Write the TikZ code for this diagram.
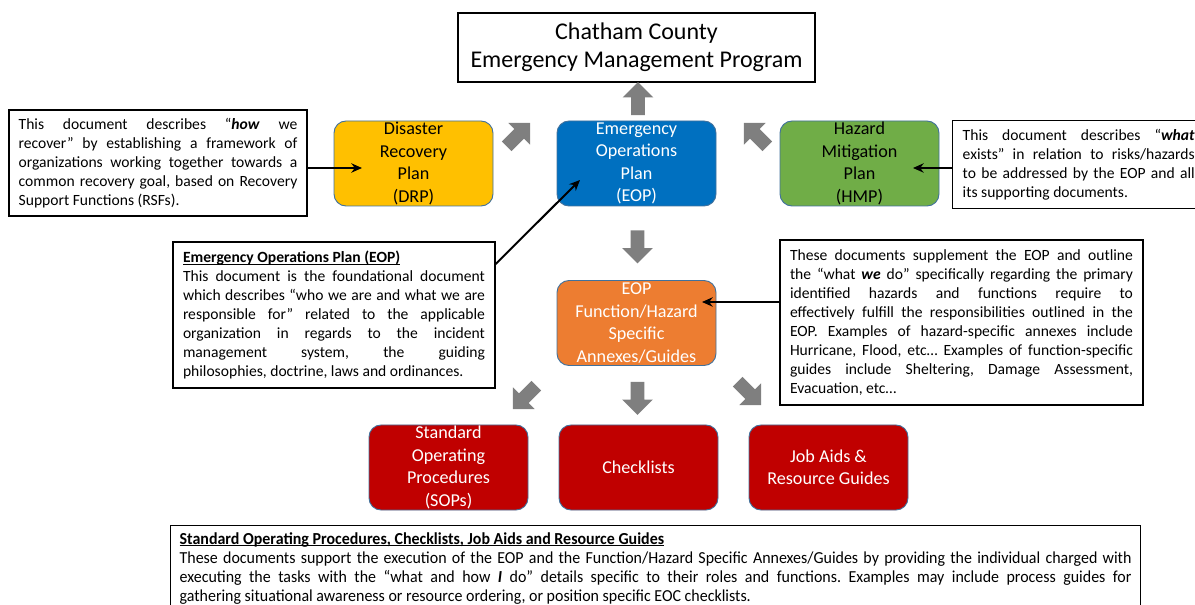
\documentclass[tikz,border=0pt]{standalone}
\usepackage{fontspec}
\setmainfont{Carlito}
\newfontfamily\narrowfont{Carlito}[FakeStretch=0.95]
\usepackage{tikz}
\usetikzlibrary{shapes.arrows,arrows.meta}

\definecolor{drpyellow}{HTML}{FFC000}
\definecolor{eopblue}{HTML}{0070C0}
\definecolor{hmpgreen}{HTML}{70AD47}
\definecolor{annexorange}{HTML}{ED7D31}
\definecolor{sopred}{HTML}{C00000}
\definecolor{edgeblue}{HTML}{41719C}
\definecolor{arrowgray}{HTML}{7F7F7F}

% underline close to the baseline
\newcommand\ulinetext[1]{\setbox0\hbox{#1}\rlap{\rule[-1.5pt]{\wd0}{0.6pt}}\box0}

\begin{document}
\begin{tikzpicture}[x=0.75pt,y=-0.75pt,
  planbox/.style={rounded corners=9pt,draw=edgeblue,line width=0.7pt,minimum width=119.25pt,
    minimum height=63.75pt,align=center,inner sep=0pt,font=\fontsize{13.6}{16.9}\selectfont},
  notebox/.style={draw,line width=0.9pt,align=justify,inner ysep=0pt,
    font=\fontsize{11.7}{14.25}\selectfont\frenchspacing},
  bigarrow/.style={single arrow,fill=arrowgray,inner xsep=0pt,inner ysep=4.9pt,
    single arrow head extend=6.4pt,minimum height=24.75pt},
  pointer/.style={line width=1.5pt,-{Stealth[length=8pt,width=7pt]}}]

 \useasboundingbox (0,0) rectangle (1195,605);

 % program
 \node[draw,line width=2.2pt,minimum width=267.75pt,minimum height=51.75pt,align=center,
       font=\fontsize{18}{21}\selectfont] (program) at (636.5,47.5)
       {Chatham County\\Emergency Management Program};

 % plans
 \node[planbox,fill=drpyellow] (drp) at (413.5,163.5) {Disaster\\Recovery\\Plan\\(DRP)};
 \node[planbox,fill=eopblue,text=white] (eop) at (636.5,163.5) {Emergency\\Operations\\Plan\\(EOP)};
 \node[planbox,fill=hmpgreen] (hmp) at (859.5,163.5) {Hazard\\Mitigation\\Plan\\(HMP)};
 \node[planbox,fill=annexorange,text=white] (annex) at (636.5,323) {EOP\\Function/Hazard\\Specific\\Annexes/Guides};
 \node[planbox,fill=sopred,text=white] (sop) at (448.5,467.5) {Standard\\Operating\\Procedures\\(SOPs)};
 \node[planbox,fill=sopred,text=white] (checklists) at (638.5,467.5) {Checklists};
 \node[planbox,fill=sopred,text=white] (jobaids) at (828.5,467.5) {Job Aids \&\\Resource Guides};

 % gray block arrows
 \node[bigarrow,rotate=90] (toprogram) at (638,102) {};
 \node[bigarrow,rotate=45] (drpup) at (516,137) {};
 \node[bigarrow,rotate=135] (hmpup) at (758,137) {};
 \node[bigarrow,rotate=-90] (eopdown) at (637.5,243.5) {};
 \node[bigarrow,rotate=-135] (sopdown) at (527,395) {};
 \node[bigarrow,rotate=-90] (checkdown) at (637.5,395) {};
 \node[bigarrow,rotate=-45] (jobdown) at (747,391) {};

 % notes
 \node[notebox,text width=209pt,inner xsep=7.25pt,minimum height=79.5pt] (drpnote) at (158,163)
   {This document describes “\textbf{\textit{how}} we\linebreak recover” by establishing a framework of\linebreak
    organizations working together towards a\linebreak common recovery goal, based on Recovery\linebreak
    Support Functions (RSFs).};
 \node[notebox,text width=174pt,inner xsep=7.6pt,minimum height=66pt,anchor=north west] (hmpnote) at (952,120)
   {This document describes “\textbf{\textit{what}}\linebreak exists” in relation to risks/hazards\linebreak
    to be addressed by the EOP and all\linebreak its supporting documents.};
 \node[notebox,text width=226.5pt,inner xsep=7.5pt,minimum height=109.5pt] (eopnote) at (334,315)
   {\ulinetext{\textbf{Emergency Operations Plan (EOP)}}\\
    This document is the foundational document\linebreak which describes “who we are and what we are\linebreak
    responsible for” related to the applicable\linebreak organization in regards to the incident\linebreak
    management system, the guiding\linebreak philosophies, doctrine, laws and ordinances.};
 \node[notebox,text width=257.25pt,inner xsep=7.5pt,minimum height=123.75pt] (annexnote) at (961.5,322.5)
   {These documents supplement the EOP and outline\linebreak the “what \textbf{\textit{we}} do” specifically regarding the primary\linebreak
    identified hazards and functions require to\linebreak effectively fulfill the responsibilities outlined in the\linebreak
    EOP. Examples of hazard-specific annexes include\linebreak Hurricane, Flood, etc… Examples of function-specific\linebreak
    guides include Sheltering, Damage Assessment,\linebreak Evacuation, etc…};
 \node[notebox,text width=714pt,inner xsep=6.75pt,inner ysep=5pt,anchor=north west,
       font=\narrowfont\fontsize{12.6}{14.25}\selectfont\frenchspacing] (sopnote) at (170,525)
   {\ulinetext{\textbf{Standard Operating Procedures, Checklists, Job Aids and Resource Guides}}\\
    These documents support the execution of the EOP and the Function/Hazard Specific Annexes/Guides by providing the individual charged with\linebreak
    executing the tasks with the “what and how \textbf{\textit{I}} do” details specific to their roles and functions. Examples may include process guides for\linebreak
    gathering situational awareness or resource ordering, or position specific EOC checklists.};

 % pointers
 \coordinate (drptip) at (362,168);
 \coordinate (hmptip) at (913,168);
 \coordinate (eoptip) at (580,180);
 \coordinate (annextip) at (702,302);
 \draw[pointer] (drpnote.east |- drptip) -- (drptip);
 \draw[pointer] (hmpnote.west |- hmptip) -- (hmptip);
 \draw[pointer] ([yshift=-17pt]eopnote.north east) -- (eoptip);
 \draw[pointer] (annexnote.west |- annextip) -- (annextip);
\end{tikzpicture}
\end{document}
